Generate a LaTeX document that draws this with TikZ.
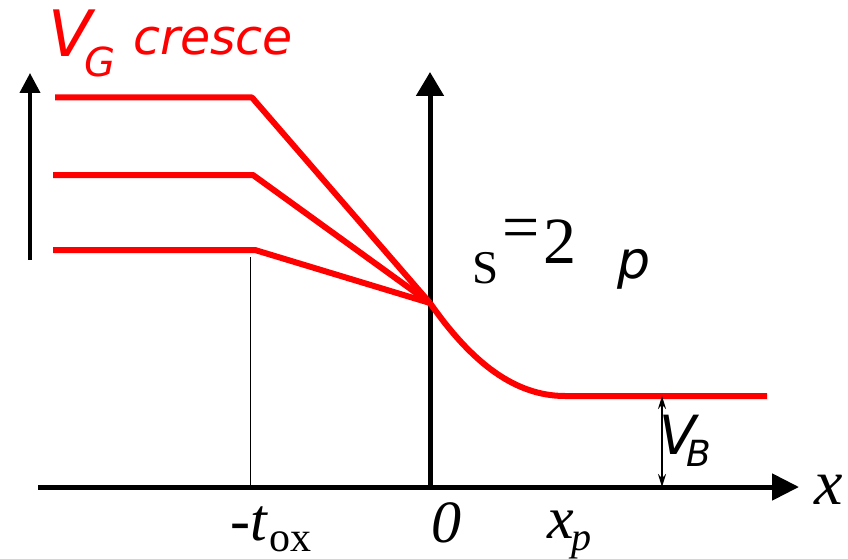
\documentclass[tikz,border=0pt]{standalone}
\usepackage{fontspec}
\setmainfont{Liberation Serif}
\setsansfont{DejaVu Sans}
\usepackage{tikz}
\usetikzlibrary{arrows.meta}
\tikzset{
  band/.style={red, line width=6pt, line join=round},
  lbl/.style={inner sep=0pt, anchor=base west},
}
\newcommand{\fs}[1]{\fontsize{#1}{#1}\selectfont}

\begin{document}
\begin{tikzpicture}[x=1pt,y=1pt]
\useasboundingbox (0,0) rectangle (848,558);
\coordinate (O) at (430,71);
\coordinate (S) at (430,255);
\coordinate (P) at (565,162);
% axes
\draw[line width=5pt,-{Triangle[length=27pt,width=26pt]}] (38,71) -- (799,71);
\draw[line width=5pt,-{Triangle[length=24pt,width=27pt]}] (430,69) -- (430,486);
\draw[line width=4pt,-{Triangle[length=20pt,width=20pt]}] (30,298) -- (30,485);
\draw[line width=1pt] (250,71) -- (250,301);
% potential curves
\draw[band] (55,460.5) -- (252,460.5) -- (S);
\draw[band] (53,383) -- (253,383) -- (S);
\draw[band] (53,308) -- (255,308) -- (S);
\draw[band] (S) .. controls (472,195) and (515,162) .. (P) -- (767,162);
\draw[line width=2pt,{Stealth[length=13pt,width=8pt]}-{Stealth[length=13pt,width=8pt]}] (662,162) -- (662,71);
% labels
\node[lbl,red] (vg) at (48,501) {\sffamily\itshape\fs{64}V};
\node[lbl,red] (vgsub) at (84,481) {\sffamily\itshape\fs{40}G};
\node[lbl,red] (cresce) at (133,503) {\sffamily\itshape\fs{49}cresce};
\node[lbl] (psis) at (472,275) {\fs{47}S};
\node[lbl,anchor=base] (eq) at (521,309) {\fs{66}=};
\node[lbl] (two) at (543,295) {\fs{66}2};
\node[lbl] (psip) at (617,280) {\sffamily\itshape\fs{52}p};
\node[lbl] (xlab) at (814,54) {\itshape\fs{64}x};
\node[lbl] (zero) at (431,16) {\itshape\fs{60}0};
\node[lbl] (tox) at (230,18) {\itshape\fs{60}-t};
\node[lbl] (toxsub) at (269,7) {\fs{42}ox};
\node[lbl] (xp) at (547,20) {\itshape\fs{60}x};
\node[lbl] (xpsub) at (571,8) {\itshape\fs{40}p};
\node[lbl] (vb) at (659,104) {\sffamily\itshape\fs{54}V};
\node[lbl] (vbsub) at (686,92) {\sffamily\itshape\fs{36}B};
\end{tikzpicture}
\end{document}
